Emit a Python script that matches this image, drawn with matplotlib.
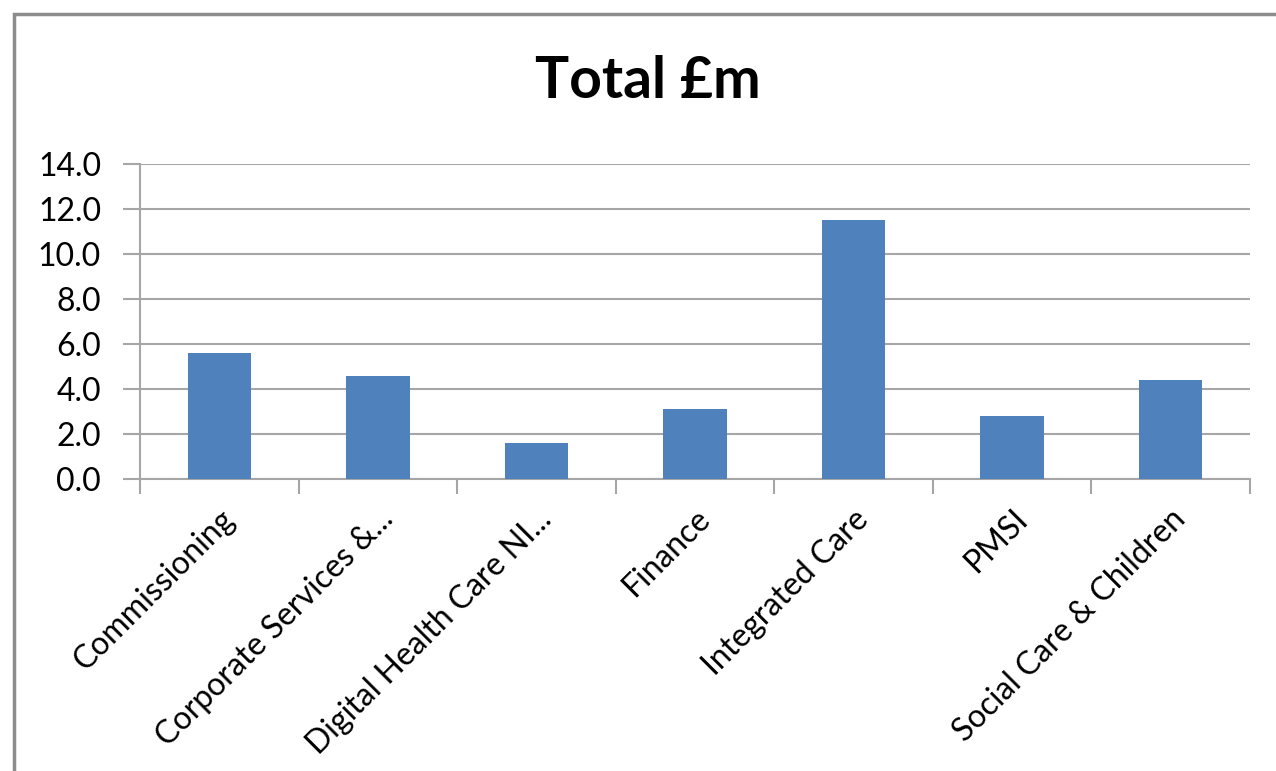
import numpy as np
import matplotlib
matplotlib.use('agg')
import matplotlib.pyplot as plt
from matplotlib.patches import Rectangle

# DATA
categories = ['Commissioning', 'Corporate Services &...', 'Digital Health Care NI...',
              'Finance', 'Integrated Care', 'PMSI', 'Social Care & Children']
totals = [5.6, 4.6, 1.6, 3.1, 11.5, 2.8, 4.4]
yticks = [0, 2, 4, 6, 8, 10, 12, 14]
title = 'Total £m'

barcolor = '#4F81BD'
gridcolor = '#A6A6A6'

plt.rcParams['font.family'] = ['Lato', 'DejaVu Sans']

fig = plt.figure(figsize=(12.76, 7.71), dpi=100)
ax = fig.add_axes([140/1276, 1-479/771, 1110/1276, 315/771])

# chart area border (clipped at right/bottom like the screenshot)
fig.patches.append(Rectangle((14/1276, -0.1), 1.2, 1-14/771+0.1, transform=fig.transFigure,
                             fill=False, edgecolor='#8C8C8C', lw=2.5))

x = np.arange(len(categories))
ax.bar(x, totals, width=0.4, color=barcolor, zorder=3)

ax.set_xlim(-0.5, len(categories)-0.5)
ax.set_ylim(0, 14)
ax.set_yticks(yticks)
ax.set_yticklabels(['%.1f' % v for v in yticks], fontsize=23)
ax.yaxis.grid(True, color=gridcolor, lw=1.5, zorder=0)
ax.set_axisbelow(True)

ax.set_xticks(x)
ax.set_xticklabels(categories, rotation=45, ha='right', rotation_mode='anchor', fontsize=23)
ax.set_xticks(np.arange(len(categories)+1)-0.5, minor=True)
ax.tick_params(axis='x', which='major', length=0, pad=18)
ax.tick_params(axis='x', which='minor', length=11, width=1.5, color=gridcolor, direction='out')
ax.tick_params(axis='y', length=12, width=1.5, color=gridcolor, pad=16)

for s in ['top', 'right']:
    ax.spines[s].set_visible(False)
for s in ['left', 'bottom']:
    ax.spines[s].set_color(gridcolor)
    ax.spines[s].set_linewidth(1.5)

fig.text(648/1276, 1-82/771, title, ha='center', va='center', fontsize=41, fontweight='bold')

fig.savefig('out.png', dpi=100)
